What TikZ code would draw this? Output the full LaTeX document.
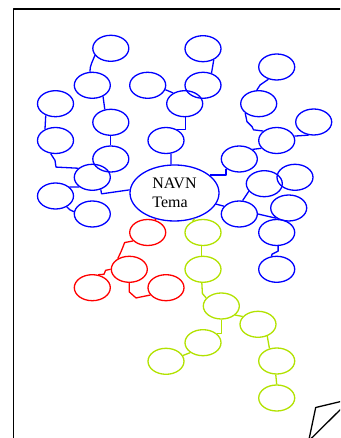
\documentclass[tikz,border=0pt]{standalone}
\usepackage{fontspec}
\setmainfont{Liberation Serif}
\usetikzlibrary{shapes.geometric}
\definecolor{bl}{RGB}{0,0,255}
\definecolor{rd}{RGB}{255,0,0}
\definecolor{gr}{RGB}{178,226,0}
\begin{document}
\begin{tikzpicture}[x=1pt,y=1pt,line join=round,
  bub/.style={ellipse,draw=#1,line width=1.3pt,minimum width=36pt,minimum height=26pt,inner sep=0pt},
  con/.style={draw=#1,line width=1.3pt},
  frame/.style={draw=black,line width=1.5pt}]
\useasboundingbox (0,0) rectangle (340,438);
\clip (0,0) rectangle (340,438);
\fill[white] (0,0) rectangle (340,438);
% frame
\draw[frame] (13.3,-5) -- (13.3,429) -- (345,429);
% corner shape
\draw[frame,line width=1.3pt] (308.25,-5) -- (315.7,30.5) -- (345,37.5);
\draw[frame,line width=1.3pt] (345,33) -- (306.6,-5);
% center
\node[ellipse,draw=bl,line width=1.3pt,minimum width=89pt,minimum height=56pt,inner sep=0pt,align=left,font=\fontsize{16}{19}\selectfont] (C) at (174.5,245) {NAVN\\Tema};
% blue bubbles
\node[bub=bl] (n1) at (110.8,389.7) {};
\node[bub=bl] (n2) at (92.3,352.7) {};
\node[bub=bl] (n3) at (147.7,352.7) {};
\node[bub=bl] (n4) at (55.5,334.3) {};
\node[bub=bl] (n5) at (110.8,315.7) {};
\node[bub=bl] (n6) at (55.5,297.5) {};
\node[bub=bl] (n7) at (166,297.5) {};
\node[bub=bl] (n8) at (110.8,279) {};
\node[bub=bl] (n9) at (92.3,260.7) {};
\node[bub=bl] (n10) at (55.5,242) {};
\node[bub=bl] (n11) at (92.3,224) {};
\node[bub=bl] (n12) at (203,389.3) {};
\node[bub=bl] (n13) at (203,352.7) {};
\node[bub=bl] (n14) at (184.7,334.3) {};
\node[bub=bl] (n15) at (276.7,371) {};
\node[bub=bl] (n16) at (258.7,334.3) {};
\node[bub=bl] (n17) at (313.7,316) {};
\node[bub=bl] (n18) at (276.7,297.5) {};
\node[bub=bl] (n19) at (239.3,279) {};
\node[bub=bl] (n20) at (264.3,254.3) {};
\node[bub=bl] (n21) at (295,260.7) {};
\node[bub=bl] (n22) at (239.3,224) {};
\node[bub=bl] (n23) at (288.7,230) {};
\node[bub=bl] (n24) at (276.7,205.5) {};
\node[bub=bl] (n25) at (276.7,168.7) {};
% red bubbles
\node[bub=rd] (R1) at (147.7,205.5) {};
\node[bub=rd] (R2) at (129.3,168.7) {};
\node[bub=rd] (R3) at (92.3,150.3) {};
\node[bub=rd] (R4) at (166,150.3) {};
% green bubbles
\node[bub=gr] (G1) at (203,205.5) {};
\node[bub=gr] (G2) at (203,168.7) {};
\node[bub=gr] (G3) at (221.3,132) {};
\node[bub=gr] (G4) at (258,113.7) {};
\node[bub=gr] (G5) at (203,95.3) {};
\node[bub=gr] (G6) at (166,76.7) {};
\node[bub=gr] (G7) at (276.7,77) {};
\node[bub=gr] (G8) at (276.7,40) {};
% blue connectors
\draw[con=bl] (n1.204) to[out=250,in=90] (n2.100);
\draw[con=bl] (n2.314) -- (n5.115);
\draw[con=bl] (n4.230) -- (n6.133);
\draw[con=bl] (n5.south) -- (n8.north);
\draw[con=bl] (n6.250) -- ++(4.3,-6.7) -- ++(1,-6.7) -- (n9.147);
\draw[con=bl] (n10.33) -- (n9.217);
\draw[con=bl] (n10.316) to[out=-40,in=170] (n11.173);
\draw[con=bl] (n9.305) -- ++(0.7,-4.4) -- (C.176);
\draw[con=bl] (n3.346) -- (n14.137);
\draw[con=bl] (n12.314) -- (n13.55);
\draw[con=bl] (n14.274) |- (n7.46);
\draw[con=bl] (n7.291) -- (C.97);
\draw[con=bl] (n15.236) -- ++(-8.3,-5.7) -- (n16.98);
\draw[con=bl] (n16.215) -- ++(1.7,-8.4) -- ++(5,-5) -- ++(1.6,-3.3) -- (n18.145);
\draw[con=bl] (n18.14) -- (n17.249);
\draw[con=bl] (n19.36) -- (n18.207);
\draw[con=bl] (n19.216) |- (C.27);
\draw[con=bl] (n20.206) -- (n22.76);
\draw[con=bl] (C.345) -- (n22.153);
\draw[con=bl] (n22.east) -- (n23.220);
\draw[con=bl] (n24.276) -- ++(0,-5) -- ++(-6,-3) -- (n25.112);
% red connectors
\draw[con=rd] (C.233) -- (R1.56);
\draw[con=rd] (R1.210) -- ++(-8.4,-1.6) -- ++(-3.3,-8.4) -- (R2.137);
\draw[con=rd] (R2.west) -- ++(-5,-1) -- ++(-1.7,-4) -- (R3.66);
\draw[con=rd] (R2.south) -- ++(0,-9) -- ++(6.7,-6) -- (R4.205);
% green connectors
\draw[con=gr] (C.308) -- (G1.132);
\draw[con=gr] (G1.265) -- (G2.95);
\draw[con=gr] (G2.265) -- ++(0.6,-10.6) -- (G3.152);
\draw[con=gr] (G3.327) -- (G4.153);
\draw[con=gr] (G3.south) |- (G5.32);
\draw[con=gr] (G5.218) -- (G6.19);
\draw[con=gr] (G4.308) -- (G7.120);
\draw[con=gr] (G7.266) -- (G8.north);
\end{tikzpicture}
\end{document}
